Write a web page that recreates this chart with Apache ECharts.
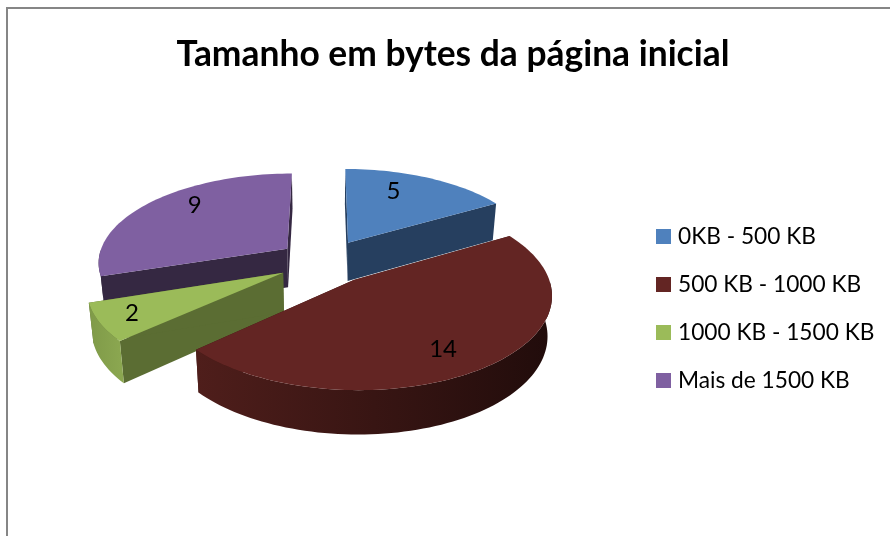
<!DOCTYPE html>
<html>
<head>
<meta charset="utf-8">
<style>html,body{margin:0;padding:0;background:#fff}#c{width:890px;height:536px}</style>
<script src="https://cdn.jsdelivr.net/npm/echarts@6/dist/echarts.min.js"></script>
</head>
<body>
<div id="c"></div>
<script>
var chartTitle = 'Tamanho em bytes da página inicial';
var categories = ['0KB - 500 KB', '500 KB - 1000 KB', '1000 KB - 1500 KB', 'Mais de 1500 KB'];
var values = [5, 14, 2, 9];

// Styling per slice
var topColors = ['#4F81BD', '#632523', '#9BBB59', '#7F60A1'];
var cutColors = ['#263F5F', '#3A1512', '#5B6D33', '#352842'];
var wallColors = [['#2A4669', '#2A4669'], ['#4F1E1B', '#210C0B'], ['#7F9A48', '#8CA851'], ['#352842', '#352842']];
var depthOrder = [3, 0, 2, 1];                    // back to front
var labelOffsets = [[0.28, -0.673], [0.399, 0.665], [-0.723, 0.414], [-0.55, -0.547]];

// Projection of the tilted disc
var view = {cx: 325, cy: 261.5, A: 190, B: 89, H: 39, k: 0.14, bottomScale: 1.02, explode: 0.25};

var total = values.reduce(function (a, b) { return a + b; }, 0);

function project(X, Y, bottom) {
  var w = 1 - view.k * Y;
  var s = bottom ? w * view.bottomScale : w;
  return [view.cx + view.A * X / s, view.cy + view.B * Y / s + (bottom ? view.H / w : 0)];
}

function renderSlice(idx) {
  var before = 0;
  for (var i = 0; i < idx; i++) before += values[i];
  var a0 = before / total * Math.PI * 2;
  var a1 = (before + values[idx]) / total * Math.PI * 2;
  var mid = (a0 + a1) / 2;
  var ox = Math.sin(mid) * view.explode;
  var oy = -Math.cos(mid) * view.explode;
  var steps = Math.max(8, Math.round((a1 - a0) / 0.03));
  var topArc = [], wallTop = [], wallBot = [];
  var front0 = Math.PI / 2, front1 = Math.PI * 1.5;   // outer wall faces the viewer only here
  for (var s = 0; s <= steps; s++) {
    var a = a0 + (a1 - a0) * s / steps;
    var X = ox + Math.sin(a), Y = oy - Math.cos(a);
    topArc.push(project(X, Y, false));
    if (a >= front0 && a <= front1) {
      wallTop.push(project(X, Y, false));
      wallBot.push(project(X, Y, true));
    }
  }
  var n = steps;
  var apexTop = project(ox, oy, false), apexBot = project(ox, oy, true);
  var firstBot = project(ox + Math.sin(a0), oy - Math.cos(a0), true);
  var lastBot = project(ox + Math.sin(a1), oy - Math.cos(a1), true);
  function poly(points, fill) {
    return {type: 'polygon', shape: {points: points}, style: {fill: fill}};
  }
  var children = [
    poly([apexTop, topArc[0], firstBot, apexBot], cutColors[idx]),
    poly([apexTop, topArc[n], lastBot, apexBot], cutColors[idx])
  ];
  if (wallTop.length > 1) {
    children.push(poly(wallTop.concat(wallBot.slice().reverse()),
      new echarts.graphic.LinearGradient(0, 0, 1, 0, [
        {offset: 0, color: wallColors[idx][0]}, {offset: 1, color: wallColors[idx][1]}
      ])));
  }
  children.push(poly([apexTop].concat(topArc), topColors[idx]));
  var lp = project(ox + labelOffsets[idx][0], oy + labelOffsets[idx][1], false);
  children.push({
    type: 'text',
    style: {
      x: lp[0], y: lp[1], text: String(values[idx]), fill: '#000',
      font: '24px Lato', align: 'center', verticalAlign: 'middle'
    },
    z2: 10
  });
  return {type: 'group', children: children};
}

var series = depthOrder.map(function (idx, order) {
  return {
    type: 'custom',
    name: categories[idx],
    coordinateSystem: 'none',
    z: 2 + order,
    silent: true,
    itemStyle: {color: topColors[idx]},
    data: [values[idx]],
    renderItem: function () { return renderSlice(idx); }
  };
});

var chart = echarts.init(document.getElementById('c'), null, {renderer: 'canvas'});
chart.setOption({
  animation: false,
  backgroundColor: '#fff',
  title: {
    text: chartTitle, left: 448, top: 32, textAlign: 'center',
    textStyle: {fontFamily: 'Lato', fontSize: 35.4, fontWeight: 'bold', color: '#000'}
  },
  legend: {
    data: categories, orient: 'vertical', left: 651, top: 220,
    icon: 'rect', itemWidth: 15, itemHeight: 15, itemGap: 25,
    textStyle: {fontFamily: 'Lato', fontSize: 22.7, color: '#000', padding: [0, 0, 0, 2]},
    selectedMode: false
  },
  graphic: [{
    type: 'polyline', silent: true,
    shape: {points: [[7, 536], [7, 8], [890, 8]]},
    style: {stroke: '#868686', lineWidth: 2, fill: null}
  }],
  series: series
});
</script>
</body>
</html>
